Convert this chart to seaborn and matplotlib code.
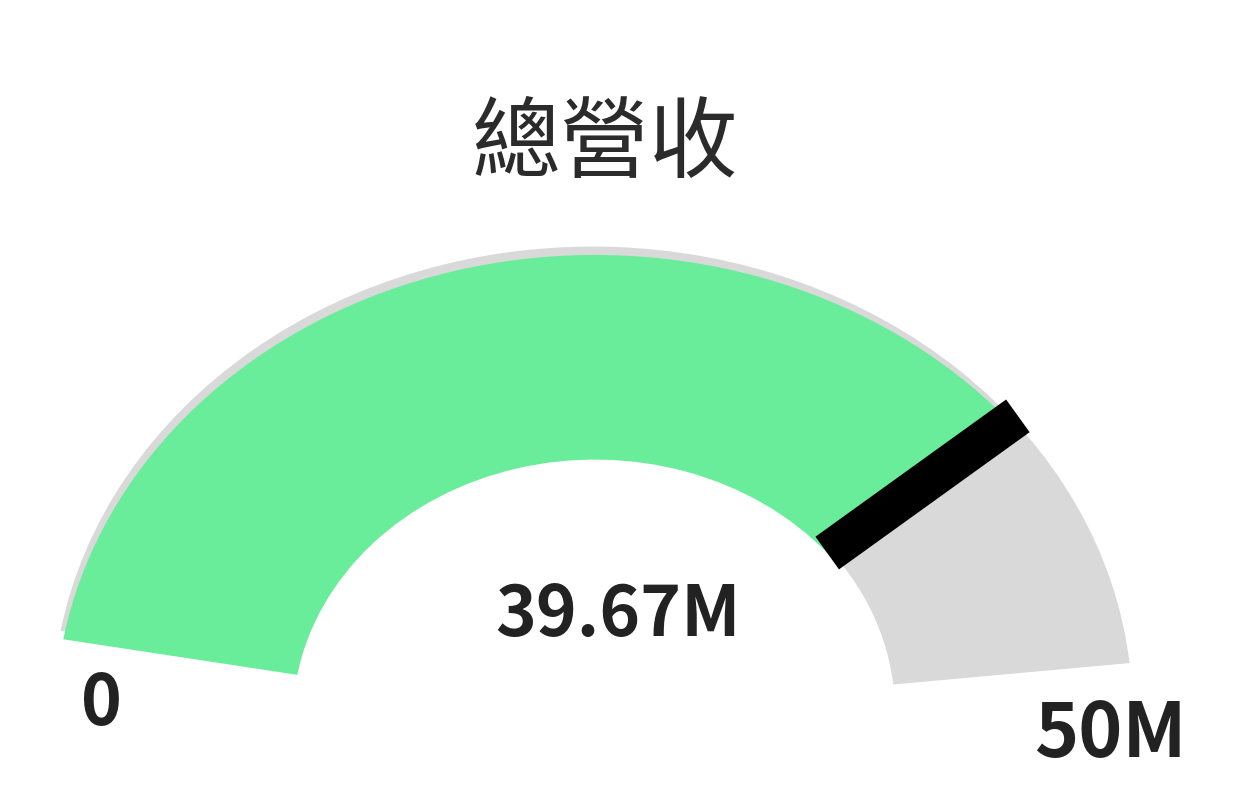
import numpy as np
import matplotlib
matplotlib.use('Agg')
import matplotlib.pyplot as plt
from matplotlib.patches import Wedge
import seaborn as sns

sns.set_theme(style='white')
plt.rcParams['font.family'] = ['Noto Sans CJK TC', 'DejaVu Sans']

# DATA
title = '總營收'
gauge_min = 0
gauge_max = 50
value = 39.67
unit = 'M'

# gauge layout (angles in degrees, 0 = right)
start_deg, end_deg = 170, 6
r_out, band = 1.0, 0.44
green = '#6aed9b'
track = '#d9d9d9'


def to_angle(v):
    frac = (v - gauge_min) / (gauge_max - gauge_min)
    return start_deg - frac * (start_deg - end_deg)


fig = plt.figure(figsize=(12.4, 8.08), dpi=100)
ax = fig.add_axes([0, 0, 1, 1])
ax.set_xlim(-1.102, 1.194)
ax.set_ylim(-0.189, 1.548)
ax.axis('off')

# background track, nudged up a little so it peeks out behind the fill
ax.add_patch(Wedge((-0.005, 0.018), r_out, to_angle(gauge_max), to_angle(gauge_min),
                   width=band, color=track, lw=0))
# value fill
a = to_angle(value)
ax.add_patch(Wedge((0, 0), r_out, a, to_angle(gauge_min),
                   width=band, color=green, lw=0))
# needle
t = np.deg2rad(a)
r = np.array([r_out - band, r_out + 0.02])
ax.plot(r * np.cos(t), r * np.sin(t), color='black', lw=29, solid_capstyle='butt')

# texts
fig.text(0.488, 0.82, title, ha='center', va='center', fontsize=64,
         fontweight='medium', color='#2b2b2b')
fig.text(0.498, 0.238, f'{value:.2f}{unit}', ha='center', va='center',
         fontsize=50, fontweight='bold', color='#222222')
fig.text(0.082, 0.128, f'{gauge_min}', ha='center', va='center',
         fontsize=50, fontweight='bold', color='#222222')
fig.text(0.895, 0.09, f'{gauge_max}{unit}', ha='center', va='center',
         fontsize=54, fontweight='bold', color='#222222')

fig.savefig('out.png', dpi=100)
